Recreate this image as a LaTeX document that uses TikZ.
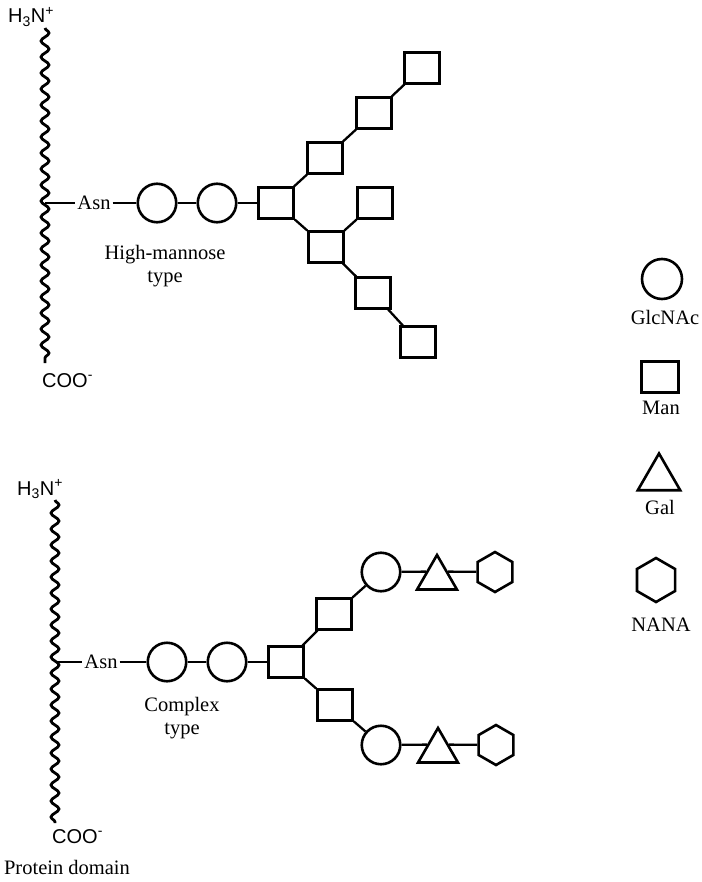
\documentclass[tikz,border=0pt]{standalone}
\usepackage{fontspec}
\setmainfont{Liberation Serif}
\newfontfamily\sansf{Liberation Sans}
\usetikzlibrary{shapes.geometric,decorations.pathmorphing}
\begin{document}
\begin{tikzpicture}[x=1pt,y=-1pt,
  lbl/.style={font=\fontsize{20.5}{22.5}\selectfont, inner sep=0pt, align=center},
  asnlbl/.style={font=\fontsize{20.5}{22.5}\selectfont, inner sep=2pt},
  sanslbl/.style={font=\sansf\fontsize{20}{22}\selectfont, inner sep=0pt},
  glc/.style={circle, draw, line width=2.6pt, minimum size=38.5pt, inner sep=0pt},
  man/.style={rectangle, draw, line width=2.6pt, minimum width=35pt, minimum height=30.5pt, inner sep=0pt},
  gal/.style={regular polygon, regular polygon sides=3, draw, line width=2.6pt, minimum size=46pt, inner sep=0pt},
  nana/.style={regular polygon, regular polygon sides=6, shape border rotate=30, draw, line width=2.6pt, minimum size=40pt, inner sep=0pt},
  link/.style={line width=2.3pt},
  chain/.style={line width=2.8pt, decorate, decoration={snake, segment length=16pt, amplitude=4pt}}
]
\useasboundingbox (0,0) rectangle (701,882);

% ---------- High-mannose type ----------
\node[sanslbl, anchor=base west] (nt1) at (8,23) {H\textsubscript{3}N\textsuperscript{+}};
\coordinate (wt1) at (45,28);
\coordinate (wb1) at (45,363);
\coordinate (wa1) at (45,203);
\draw[chain] (wt1) -- (wb1);
\node[sanslbl, anchor=base west] (ct1) at (42,387) {COO\textsuperscript{-}};

\node[asnlbl] (asn1) at (94,203) {Asn};
\node[glc] (g1) at (157,203) {};
\node[glc] (g2) at (217,203) {};
\node[man] (m0) at (276,203) {};
\node[man] (m1) at (325,158) {};
\node[man] (m2) at (374,113) {};
\node[man] (m3) at (422,68) {};
\node[man] (m4) at (326,247) {};
\node[man] (m5) at (375,203) {};
\node[man] (m6) at (373,293) {};
\node[man] (m7) at (418,342) {};
\node[lbl] (hm) at (165,266) {High-mannose\\type};

\draw[link] (wa1) -- (asn1);
\draw[link] (asn1) -- (g1);
\draw[link] (g1) -- (g2);
\draw[link] (g2) -- (m0);
\draw[link] (m0) -- (m1);
\draw[link] (m1) -- (m2);
\draw[link] (m2) -- (m3);
\draw[link] (m0) -- (m4);
\draw[link] (m4) -- (m5);
\draw[link] (m4) -- (m6);
\draw[link] (m6) -- (m7);

% ---------- Complex type ----------
\node[sanslbl, anchor=base west] (nt2) at (17,495) {H\textsubscript{3}N\textsuperscript{+}};
\coordinate (wt2) at (55,500);
\coordinate (wb2) at (55,823);
\coordinate (wa2) at (55,662);
\draw[chain] (wt2) -- (wb2);
\node[sanslbl, anchor=base west] (ct2) at (52,843) {COO\textsuperscript{-}};
\node[lbl] (pd) at (67,867) {Protein domain};

\node[asnlbl] (asn2) at (101,662) {Asn};
\node[glc] (g3) at (167,662) {};
\node[glc] (g4) at (227,662) {};
\node[man] (n0) at (286,662) {};
\node[man] (n1) at (334,614) {};
\node[man] (n2) at (335,705) {};
\node[glc] (g5) at (381,572) {};
\node[gal] (t1) at (437,578) {};
\node[nana] (h1) at (495,572) {};
\node[glc] (g6) at (381,745) {};
\node[gal] (t2) at (438,751) {};
\node[nana] (h2) at (496,745) {};
\node[lbl] (cx) at (182,718) {Complex\\type};

\draw[link] (wa2) -- (asn2);
\draw[link] (asn2) -- (g3);
\draw[link] (g3) -- (g4);
\draw[link] (g4) -- (n0);
\draw[link] (n0) -- (n1);
\draw[link] (n0) -- (n2);
\draw[link] (n1) -- (g5);
\draw[link] (g5) -- (t1.side 1);
\draw[link] (t1.side 3) -- (h1);
\draw[link] (n2) -- (g6);
\draw[link] (g6) -- (t2.side 1);
\draw[link] (t2.side 3) -- (h2);

% ---------- Legend ----------
\node[glc, minimum size=40pt] (lg) at (662,279) {};
\node[lbl] (lgt) at (665,317) {GlcNAc};
\node[man, minimum width=37pt] (lm) at (660,377) {};
\node[lbl] (lmt) at (661,408) {Man};
\node[gal, minimum size=49pt] (lt) at (659,478) {};
\node[lbl] (ltt) at (660,507) {Gal};
\node[nana, minimum size=44pt] (lh) at (656,580) {};
\node[lbl] (lht) at (661,625) {NANA};
\end{tikzpicture}
\end{document}
